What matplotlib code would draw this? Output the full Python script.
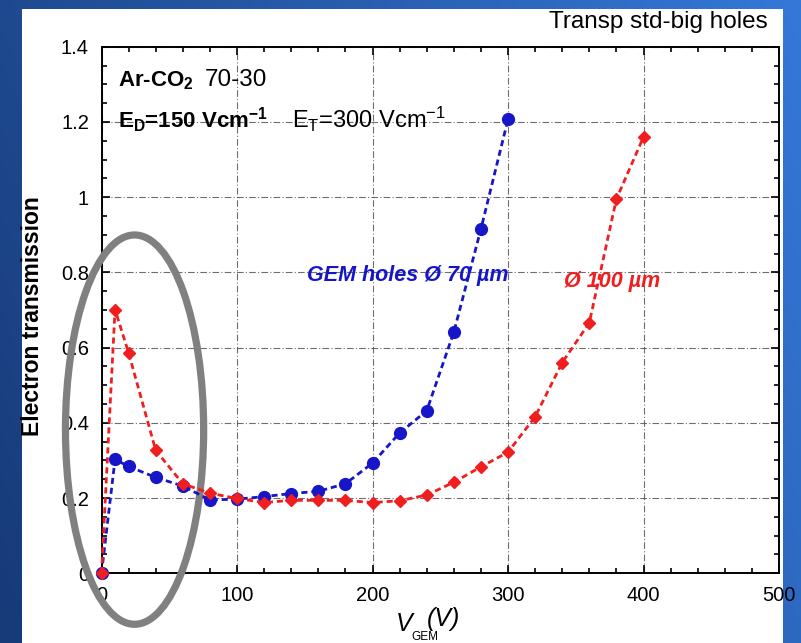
import numpy as np
import matplotlib
matplotlib.use("Agg")
import matplotlib.pyplot as plt
from matplotlib.patches import Ellipse, Rectangle
from matplotlib.ticker import MultipleLocator

plt.rcParams['font.family'] = ['Liberation Sans', 'DejaVu Sans']
plt.rcParams['mathtext.fontset'] = 'custom'
plt.rcParams['mathtext.rm'] = 'Liberation Sans'
plt.rcParams['mathtext.it'] = 'Liberation Sans:italic'
plt.rcParams['mathtext.bf'] = 'Liberation Sans:bold'

# ---- data ----
v_70 = [0, 10, 20, 40, 60, 80, 100, 120, 140, 160, 180, 200, 220, 240, 260, 280, 300]
t_70 = [0.0, 0.303, 0.284, 0.255, 0.232, 0.195, 0.197, 0.204, 0.212, 0.218, 0.238,
        0.293, 0.373, 0.432, 0.641, 0.915, 1.207]
v_100 = [0, 10, 20, 40, 60, 80, 100, 120, 140, 160, 180, 200, 220, 240, 260, 280,
         300, 320, 340, 360, 380, 400]
t_100 = [0.0, 0.701, 0.586, 0.327, 0.238, 0.213, 0.199, 0.188, 0.194, 0.194, 0.194,
         0.188, 0.193, 0.208, 0.242, 0.283, 0.322, 0.416, 0.560, 0.666, 0.995, 1.160]
x_ticks = [0, 100, 200, 300, 400, 500]
x_ticklabels = ['0', '100', '200', '300', '400', '500']
y_ticks = [0, 0.2, 0.4, 0.6, 0.8, 1.0, 1.2, 1.4]
y_ticklabels = ['0', '0.2', '0.4', '0.6', '0.8', '1', '1.2', '1.4']

W, H = 801, 643
fig = plt.figure(figsize=(W / 100, H / 100), dpi=100)

def fx(px):
    return px / W

def fy(py):
    return 1 - py / H

# ---- slide background gradient ----
bg = fig.add_axes([0, 0, 1, 1], zorder=-10)
gx = np.linspace(0, 1, 200)
gy = np.linspace(0, 1, 160)
GX, GY = np.meshgrid(gx, gy)
t = np.clip(0.75 * GX + 0.25 * (1 - GY), 0, 1)
c0 = np.array([0x17, 0x3a, 0x78]) / 255
c1 = np.array([0x35, 0x78, 0xd8]) / 255
img = c0[None, None, :] * (1 - t[..., None]) + c1[None, None, :] * t[..., None]
bg.imshow(img, extent=[0, 1, 0, 1], aspect='auto', origin='upper')
bg.set_xlim(0, 1)
bg.set_ylim(0, 1)
bg.axis('off')
bg.add_patch(Rectangle((fx(22), 0), fx(783) - fx(22), fy(9), facecolor='white',
                       edgecolor='none', transform=bg.transAxes))

# ---- main axes ----
left, right, top, bottom = 101.5, 779, 46.7, 573.3
ax = fig.add_axes([fx(left), fy(bottom), fx(right) - fx(left), (bottom - top) / H])
ax.set_facecolor('white')
ax.set_xlim(0, 500)
ax.set_ylim(0, 1.4)

ax.set_xticks(x_ticks)
ax.set_xticklabels(x_ticklabels)
ax.set_yticks(y_ticks)
ax.set_yticklabels(y_ticklabels)
ax.xaxis.set_minor_locator(MultipleLocator(20))
ax.yaxis.set_minor_locator(MultipleLocator(0.05))
ax.tick_params(which='both', direction='in', top=True, right=True, width=1.2, color='black')
ax.tick_params(which='major', length=6, labelsize=14.5, pad=9)
ax.tick_params(which='minor', length=3.5)
for s in ax.spines.values():
    s.set_linewidth(1.4)
ax.grid(True, which='major', color='#555555', linewidth=0.8,
        linestyle=(0, (6, 2, 1, 2)), alpha=0.85)
ax.set_axisbelow(True)

blue = '#1616c8'
red = '#f01e1e'
dash = (0, (2.2, 1.4))
ax.plot(v_70, t_70, color=blue, linestyle=dash, linewidth=2.0, marker='o',
        markersize=8.5, markerfacecolor=blue, markeredgecolor=blue, zorder=3,
        clip_on=False)
ax.plot(v_100, t_100, color=red, linestyle=dash, linewidth=2.0, marker='D',
        markersize=6.5, markerfacecolor=red, markeredgecolor=red, zorder=3.1,
        clip_on=False)

# grey highlight ellipse
ell = Ellipse((24.4, 0.382), 102, 1.035, facecolor='none', edgecolor='#808080',
              linewidth=5.2, zorder=2.8, clip_on=False)
ax.add_patch(ell)

# ---- annotations ----
fig.text(fx(118), fy(86), r'Ar-CO$_\mathbf{2}$', fontsize=16, fontweight='bold',
         va='baseline', ha='left')
fig.text(fx(205), fy(86), '70-30', fontsize=17.5, va='baseline', ha='left')
fig.text(fx(118), fy(128), r'E$_\mathbf{D}$=150 Vcm$^\mathbf{-1}$', fontsize=16,
         fontweight='bold', va='baseline', ha='left')
fig.text(fx(292), fy(128), r'E$_\mathrm{T}$=300 Vcm$^\mathrm{-1}$', fontsize=17,
         va='baseline', ha='left')

fig.text(fx(307), fy(275), 'GEM holes Ø 70 µm', color=blue, fontsize=15.5,
         fontweight='bold', fontstyle='italic', va='center', ha='left')
fig.text(fx(564), fy(281), 'Ø 100 µm', color=red, fontsize=15.5,
         fontweight='bold', fontstyle='italic', va='center', ha='left')

fig.text(fx(768), fy(28), 'Transp std-big holes', fontsize=17.5, va='baseline', ha='right')

fig.text(fx(33), fy(316), 'Electron transmission', fontsize=16.5, fontweight='bold',
         rotation=90, va='center', ha='center')

fig.text(fx(396), fy(631), 'V', fontsize=18, fontstyle='italic', va='baseline', ha='left')
fig.text(fx(411), fy(640), 'GEM', fontsize=8.5, va='baseline', ha='left')
fig.text(fx(427), fy(626), '(V)', fontsize=18, fontstyle='italic', va='baseline', ha='left')

fig.savefig('out.png', dpi=100)
